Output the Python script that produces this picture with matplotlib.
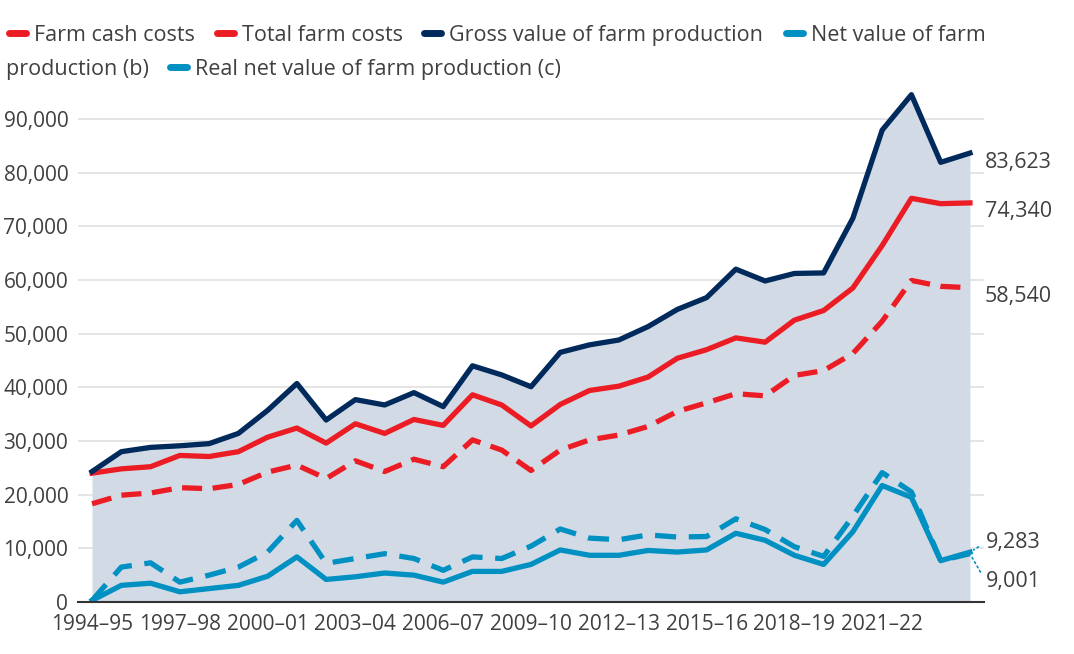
import matplotlib
matplotlib.use("Agg")
import matplotlib.pyplot as plt
from matplotlib.lines import Line2D
from matplotlib.ticker import FuncFormatter
import numpy as np

plt.rcParams['font.family'] = ['Open Sans', 'DejaVu Sans']

years = ['1994–95', '1995–96', '1996–97', '1997–98', '1998–99', '1999–00', '2000–01',
         '2001–02', '2002–03', '2003–04', '2004–05', '2005–06', '2006–07', '2007–08',
         '2008–09', '2009–10', '2010–11', '2011–12', '2012–13', '2013–14', '2014–15',
         '2015–16', '2016–17', '2017–18', '2018–19', '2019–20', '2020–21', '2021–22',
         '2022–23', '2023–24', '2024–25']

gross = [24300, 28000, 28800, 29100, 29500, 31400, 35700, 40700, 33900, 37700, 36700,
         39000, 36400, 44000, 42300, 40100, 46500, 47900, 48800, 51300, 54500, 56700,
         62000, 59800, 61200, 61300, 71500, 87900, 94500, 81900, 83623]
total_costs = [24000, 24800, 25200, 27300, 27100, 28000, 30700, 32400, 29600, 33200, 31400,
               34000, 32900, 38600, 36700, 32800, 36800, 39400, 40200, 41900, 45400, 47000,
               49200, 48400, 52500, 54300, 58500, 66400, 75200, 74200, 74340]
cash_costs = [18300, 19900, 20300, 21300, 21100, 21900, 24200, 25500, 23000, 26300, 24300,
              26600, 25200, 30200, 28300, 24500, 28300, 30200, 31100, 32700, 35500, 37100,
              38800, 38400, 42200, 43100, 46300, 52300, 59900, 58800, 58540]
net_value = [300, 3100, 3500, 1900, 2500, 3100, 4800, 8400, 4200, 4700, 5400,
             5000, 3700, 5700, 5700, 7000, 9700, 8700, 8700, 9600, 9300, 9700,
             12800, 11500, 8700, 7000, 13100, 21700, 19500, 7700, 9283]
real_net = [300, 6500, 7300, 3700, 5000, 6500, 9300, 15200, 7200, 8100, 9000,
            8100, 5900, 8400, 8100, 10400, 13600, 11900, 11600, 12500, 12100, 12200,
            15500, 13500, 10300, 8500, 16000, 24100, 20500, 7700, 9001]

navy = '#012a5c'
red = '#ec1c24'
blue = '#0090c1'
grey_txt = '#404040'

W, H = 1074, 654
fig = plt.figure(figsize=(W / 100, H / 100), dpi=100)
ax = fig.add_axes([78 / W, 1 - 602 / H, (984 - 78) / W, (602 - 92) / H])

x = np.arange(len(years))
ax.fill_between(x, 0, gross, color='#d2dae6', lw=0, zorder=1)

ax.plot(x, cash_costs, color=red, lw=3.8, dashes=(3.8, 2.0), zorder=3)
ax.plot(x, total_costs, color=red, lw=3.8, zorder=3)
ax.plot(x, gross, color=navy, lw=3.8, zorder=4)
ax.plot(x, real_net, color=blue, lw=3.8, dashes=(4.0, 2.4), zorder=3)
ax.plot(x, net_value, color=blue, lw=3.8, zorder=4)

ax.set_xlim(-0.48, len(years) - 1 + 0.48)
ax.set_ylim(0, 95000)
ax.set_yticks(np.arange(0, 90001, 10000))
ax.yaxis.set_major_formatter(FuncFormatter(lambda v, p: f'{int(v):,}'))
ax.set_xticks(x[:28:3])
ax.set_xticklabels(years[:28:3])
ax.tick_params(axis='both', length=0, labelsize=15, colors=grey_txt)
ax.tick_params(axis='y', pad=7)
ax.tick_params(axis='x', pad=9)
ax.grid(axis='y', color='#e3e3e3', lw=1.3, zorder=0)
ax.set_axisbelow(True)
for s in ['top', 'right', 'left']:
    ax.spines[s].set_visible(False)
ax.spines['bottom'].set_color('#333333')
ax.spines['bottom'].set_linewidth(1.5)
ax.spines['bottom'].set_zorder(5)

# end labels
last = len(years) - 1
for series in [gross, total_costs, cash_costs]:
    ax.annotate(f'{series[-1]:,}', (last, series[-1]), xytext=(15, -9),
                textcoords='offset pixels', fontsize=15.5, color=grey_txt,
                va='center', ha='left')
ax.annotate(f'{net_value[-1]:,}', (last, net_value[-1]), xytext=(16, 10),
            textcoords='offset pixels', fontsize=15.5, color=grey_txt,
            va='center', ha='left',
            arrowprops=dict(arrowstyle='-', color=blue, lw=1.2, ls=(0, (1, 2)),
                            shrinkA=4, shrinkB=3, relpos=(0, 0.5)))
ax.annotate(f'{real_net[-1]:,}', (last, real_net[-1]), xytext=(16, -28),
            textcoords='offset pixels', fontsize=15.5, color=grey_txt,
            va='center', ha='left',
            arrowprops=dict(arrowstyle='-', color=blue, lw=1.2, ls=(0, (1, 2)),
                            shrinkA=4, shrinkB=3, relpos=(0, 0.5)))

# legend drawn by hand so it wraps like the original
legend_items = [
    (6, 33, red, 'Farm cash costs'),
    (214, 33, red, 'Total farm costs'),
    (421, 33, navy, 'Gross value of farm production'),
    (783, 33, blue, 'Net value of farm'),
    (167, 67, blue, 'Real net value of farm production (c)'),
]
for hx, hy, col, lab in legend_items:
    fig.add_artist(Line2D([(hx + 3) / W, (hx + 20) / W], [1 - hy / H, 1 - hy / H],
                          color=col, lw=5, solid_capstyle='round',
                          transform=fig.transFigure))
    fig.text((hx + 28) / W, 1 - hy / H, lab, fontsize=15.5, color=grey_txt,
             va='center_baseline', ha='left')
fig.text(6 / W, 1 - 67 / H, 'production (b)', fontsize=15.5, color=grey_txt,
         va='center_baseline', ha='left')

fig.savefig('out.png', dpi=100)
